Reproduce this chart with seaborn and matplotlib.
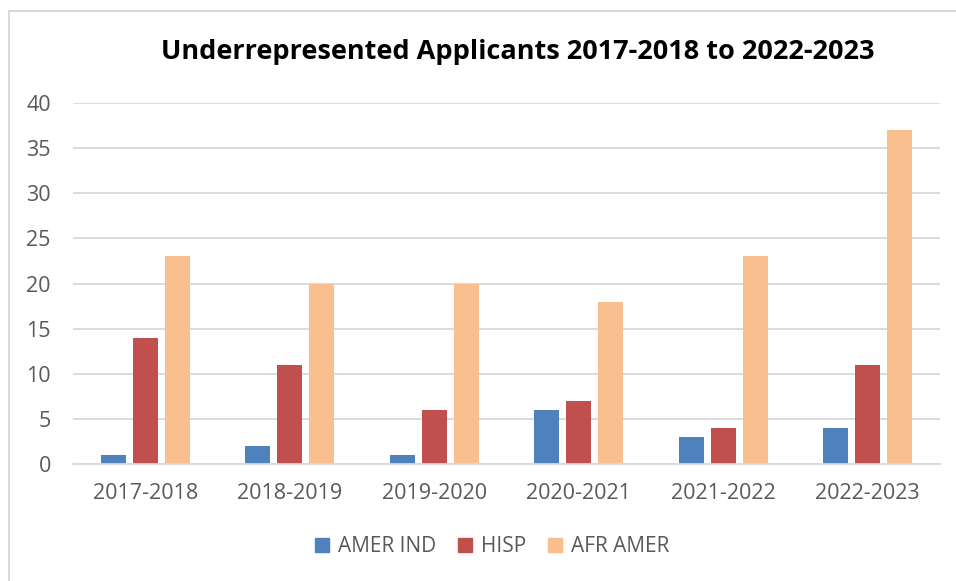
import matplotlib
matplotlib.use("Agg")
import matplotlib.pyplot as plt
import matplotlib.lines as mlines
import pandas as pd
import seaborn as sns

years = ['2017-2018', '2018-2019', '2019-2020', '2020-2021', '2021-2022', '2022-2023']
amer_ind = [1, 2, 1, 6, 3, 4]
hisp = [14, 11, 6, 7, 4, 11]
afr_amer = [23, 20, 20, 18, 23, 37]
groups = ['AMER IND', 'HISP', 'AFR AMER']
colors = ['#4F81BD', '#C0504D', '#F9BF8F']

df = pd.DataFrame({
    'year': years * 3,
    'group': [g for g in groups for _ in years],
    'count': amer_ind + hisp + afr_amer,
})

sns.set_theme(style='white')
plt.rcParams['font.family'] = ['Open Sans', 'DejaVu Sans']

fig = plt.figure(figsize=(9.56, 5.81), dpi=100)
ax = fig.add_axes([73 / 956, 1 - 464 / 581, 867 / 956, 361 / 581])

sns.barplot(data=df, x='year', y='count', hue='group', palette=colors,
            saturation=1, width=0.664, gap=0.22, ax=ax, linewidth=0)

ax.set_ylim(0, 40)
ax.set_yticks(range(0, 41, 5))
ax.set_xlim(-0.5, 5.5)
ax.yaxis.grid(True, color='#D9D9D9', linewidth=1.3)
ax.set_axisbelow(True)
for s in ['top', 'right', 'left']:
    ax.spines[s].set_visible(False)
ax.spines['bottom'].set_color('#D9D9D9')
ax.spines['bottom'].set_linewidth(1.3)
ax.tick_params(axis='both', length=0, labelsize=15.5, colors='#595959')
ax.tick_params(axis='y', pad=16)
ax.tick_params(axis='x', pad=14)
ax.set_xlabel('')
ax.set_ylabel('')

ax.legend_.remove()
handles = [plt.Rectangle((0, 0), 1, 1, color=c) for c in colors]
fig.legend(handles, groups, loc='center', bbox_to_anchor=(0.515, 1 - 547 / 581),
           ncol=3, frameon=False, fontsize=15, handlelength=0.65, handleheight=0.65,
           handletextpad=0.45, columnspacing=1.05, labelcolor='#595959')

fig.text(0.542, 1 - 52 / 581, 'Underrepresented Applicants 2017-2018 to 2022-2023',
         ha='center', va='center', fontsize=19.5, fontweight='bold', color='black')

# chart frame (left and top edges visible)
fig.add_artist(mlines.Line2D([8.5 / 956, 8.5 / 956], [0, 1 - 10.5 / 581],
                             color='#D9D9D9', linewidth=1.5, transform=fig.transFigure))
fig.add_artist(mlines.Line2D([8.5 / 956, 1], [1 - 10.5 / 581, 1 - 10.5 / 581],
                             color='#D9D9D9', linewidth=1.5, transform=fig.transFigure))

fig.savefig('out.png', dpi=100)
